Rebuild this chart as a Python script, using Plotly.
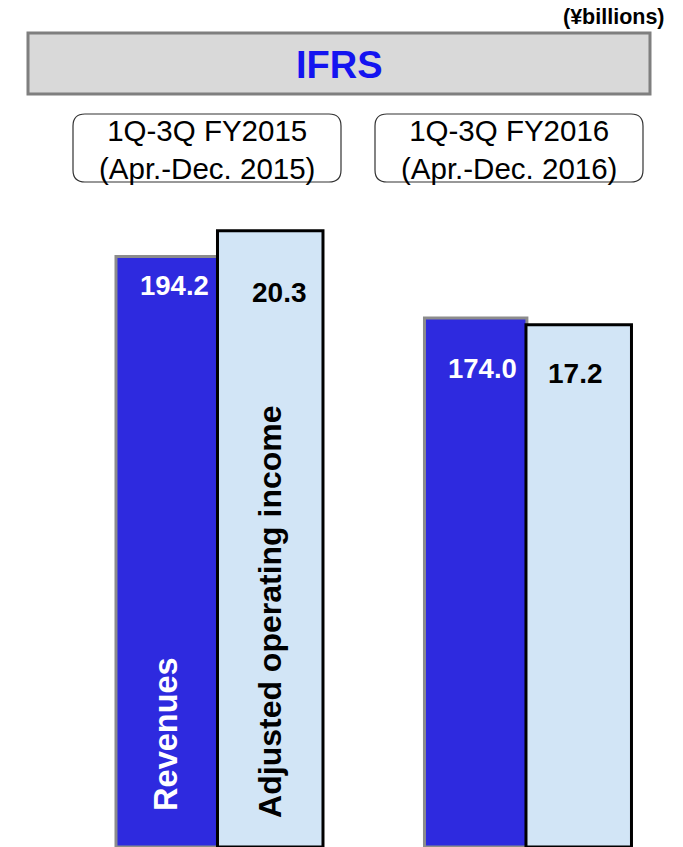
import plotly.graph_objects as go

# ---- data ----
periods = ["1Q-3Q FY2015", "1Q-3Q FY2016"]
period_labels = ["1Q-3Q FY2015<br>(Apr.-Dec. 2015)", "1Q-3Q FY2016<br>(Apr.-Dec. 2016)"]
revenues = [194.2, 174.0]
adj_operating_income = [20.3, 17.2]
revenue_text = ["194.2", "174.0"]
income_text = ["20.3", "17.2"]
series_names = ["Revenues", "Adjusted operating income"]
title_text = "IFRS"
unit_text = "(¥billions)"

# ---- geometry helpers (page pixels -> paper) ----
W, H = 683, 847
TOP = 200  # top margin in px
PLOT_H = H - TOP
FONT = "Liberation Sans, Arial, sans-serif"


def px_x(px):
    return px / W


def px_y(py):
    return (H - py) / PLOT_H


def rounded_path(l, t, r, b, rad):
    def P(x, y):
        return f"{px_x(x):.5f},{px_y(y):.5f}"
    return (f"M {P(l+rad, t)} L {P(r-rad, t)} Q {P(r, t)} {P(r, t+rad)} "
            f"L {P(r, b-rad)} Q {P(r, b)} {P(r-rad, b)} "
            f"L {P(l+rad, b)} Q {P(l, b)} {P(l, b-rad)} "
            f"L {P(l, t+rad)} Q {P(l, t)} {P(l+rad, t)} Z")


fig = go.Figure()

fig.add_trace(go.Bar(
    x=periods, y=revenues, name=series_names[0], yaxis="y",
    width=0.332, offset=-0.332,
    marker=dict(color="#2E2ADF", line=dict(color="#8C8C8C", width=3)),
    hoverinfo="skip", showlegend=False,
))
fig.add_trace(go.Bar(
    x=periods, y=adj_operating_income, name=series_names[1], yaxis="y2",
    width=0.342, offset=-0.003,
    marker=dict(color="#D2E5F6", line=dict(color="#000000", width=3)),
    hoverinfo="skip", showlegend=False,
))

annotations = []
# value labels
rev_shift = [(-43.5, -29), (-44, -51)]
inc_shift = [(61.5, -62), (49, -49)]
for i, p in enumerate(periods):
    annotations.append(dict(
        x=p, y=revenues[i], xref="x", yref="y", text=f"<b>{revenue_text[i]}</b>",
        showarrow=False, xanchor="center", yanchor="middle",
        xshift=rev_shift[i][0], yshift=rev_shift[i][1],
        font=dict(family=FONT, size=27.5, color="white")))
    annotations.append(dict(
        x=p, y=adj_operating_income[i], xref="x", yref="y2", text=f"<b>{income_text[i]}</b>",
        showarrow=False, xanchor="center", yanchor="middle",
        xshift=inc_shift[i][0], yshift=inc_shift[i][1],
        font=dict(family=FONT, size=28, color="black")))

# rotated series labels on first group
annotations.append(dict(
    x=periods[0], y=px_y(734), xref="x", yref="paper", text=f"<b>{series_names[0]}</b>",
    textangle=-90, showarrow=False, xanchor="center", yanchor="middle", xshift=-52.5,
    font=dict(family=FONT, size=32.5, color="white")))
annotations.append(dict(
    x=periods[0], y=px_y(612), xref="x", yref="paper", text=f"<b>{series_names[1]}</b>",
    textangle=-90, showarrow=False, xanchor="center", yanchor="middle", xshift=51.5,
    font=dict(family=FONT, size=32, color="black")))

# header texts
annotations.append(dict(
    x=px_x(667), y=px_y(17.5), xref="paper", yref="paper", text=f"<b>{unit_text}</b>",
    showarrow=False, xanchor="right", yanchor="middle",
    font=dict(family=FONT, size=21.5, color="black")))
annotations.append(dict(
    x=px_x(339), y=px_y(64.5), xref="paper", yref="paper", text=f"<b>{title_text}</b>",
    showarrow=False, xanchor="center", yanchor="middle",
    font=dict(family=FONT, size=38, color="#1414F0")))
box_centers = [207, 508.5]
for i, lab in enumerate(period_labels):
    annotations.append(dict(
        x=px_x(box_centers[i]), y=px_y(149), xref="paper", yref="paper", text=lab,
        showarrow=False, xanchor="center", yanchor="middle",
        font=dict(family=FONT, size=29.5, color="black")))

shapes = [
    dict(type="rect", xref="paper", yref="paper",
         x0=px_x(28), x1=px_x(650), y0=px_y(94), y1=px_y(33),
         fillcolor="#D9D9D9", line=dict(color="#7F7F7F", width=3), layer="below"),
    dict(type="path", xref="paper", yref="paper", path=rounded_path(73, 114, 341, 182, 12),
         fillcolor="rgba(255,255,255,0)", line=dict(color="#333333", width=1.2), layer="below"),
    dict(type="path", xref="paper", yref="paper", path=rounded_path(375, 114, 643, 182, 12),
         fillcolor="rgba(255,255,255,0)", line=dict(color="#333333", width=1.2), layer="below"),
]

fig.update_layout(
    width=W, height=H,
    margin=dict(l=0, r=0, t=TOP, b=0, pad=0),
    paper_bgcolor="white", plot_bgcolor="white",
    barmode="overlay",
    xaxis=dict(type="category", range=[-0.708, 1.506], visible=False, fixedrange=True),
    yaxis=dict(range=[0, 212.8], visible=False, fixedrange=True),
    yaxis2=dict(range=[0, 21.31], visible=False, overlaying="y", fixedrange=True),
    annotations=annotations,
    shapes=shapes,
    showlegend=False,
)

fig.write_html(
    "out.html",
    config={"displayModeBar": False, "staticPlot": True},
    post_script="document.body.style.margin='0';document.body.style.overflow='hidden';",
)
